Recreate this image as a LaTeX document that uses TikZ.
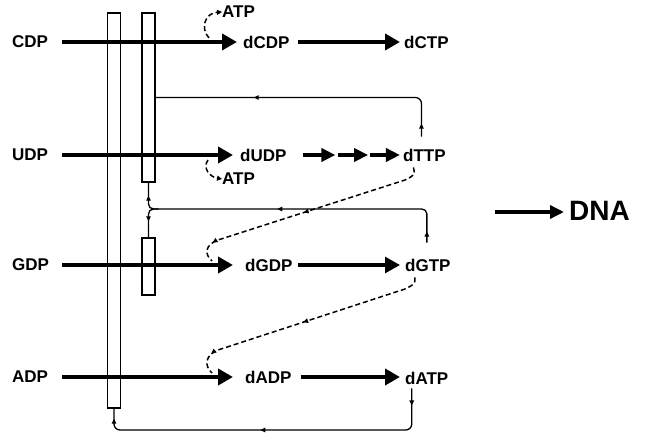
\documentclass[tikz,border=0pt]{standalone}
\usepackage{fontspec}
\setmainfont{Liberation Sans}
\usetikzlibrary{arrows.meta,calc,decorations.markings}
\begin{document}
\begin{tikzpicture}[x=1pt,y=-1pt,
  lbl/.style={font=\bfseries\fontsize{17}{19}\selectfont, inner sep=0pt, anchor=west},
  bigarrow/.style={line width=4.2pt, -{Triangle[length=15pt,width=16pt]}},
  smallarrow/.style={line width=3.6pt, -{Triangle[length=14pt,width=13pt]}},
  bar/.style={draw, line width=1.4pt, inner sep=0pt, minimum width=13pt},
  fb/.style={line width=1.3pt, rounded corners=6pt},
  dsh/.style={line width=1.5pt, dash pattern=on 5pt off 3pt},
  tip/.style={-{Triangle[length=5pt,width=5pt]}},
  mk/.style={postaction={decorate, decoration={markings, mark=at position #1 with {\arrow{Triangle[length=5pt,width=4.5pt]}}}}}
]
\useasboundingbox (0,0) rectangle (646,433);

% regulatory bars
\node[bar, minimum height=395pt] (LB) at (114,210.5) {};
\node[bar, minimum height=169pt] (UB) at (148.5,97.5) {};
\node[bar, minimum height=57pt] (GB) at (148.5,266.5) {};

% labels
\node[lbl] (CDP) at (12,42) {CDP};
\node[lbl] (UDP) at (12,155) {UDP};
\node[lbl] (GDP) at (12,265) {GDP};
\node[lbl] (ADP) at (12,377) {ADP};
\node[lbl] (dCDP) at (243,42) {dCDP};
\node[lbl] (dUDP) at (240,155) {dUDP};
\node[lbl] (dGDP) at (245,265) {dGDP};
\node[lbl] (dADP) at (245,377) {dADP};
\node[lbl] (dCTP) at (404,42) {dCTP};
\node[lbl] (dTTP) at (403,155) {dTTP};
\node[lbl] (dGTP) at (405,265) {dGTP};
\node[lbl] (dATP) at (405,378) {dATP};
\node[lbl] (ATPa) at (222,12) {ATP};
\node[lbl] (ATPb) at (222,179) {ATP};
\node[lbl, font=\bfseries\fontsize{28}{30}\selectfont] (DNA) at (569,211) {DNA};

% main reactions
\draw[bigarrow, shorten <=14pt, shorten >=6pt] (CDP.east) -- (CDP.east -| dCDP.west);
\draw[bigarrow, shorten <=8pt, shorten >=4pt] (dCDP.east) -- (dCDP.east -| dCTP.west);
\draw[bigarrow, shorten <=14pt, shorten >=7pt] (UDP.east) -- (UDP.east -| dUDP.west);
\coordinate (ua) at (dUDP.east);
\coordinate (ub) at (dUDP.east -| dTTP.west);
\draw[smallarrow] ($(ua)!0.137!(ub)$) -- ($(ua)!0.419!(ub)$);
\draw[smallarrow] ($(ua)!0.444!(ub)$) -- ($(ua)!0.70!(ub)$);
\draw[smallarrow] ($(ua)!0.718!(ub)$) -- ($(ua)!0.974!(ub)$);
\draw[bigarrow, shorten <=13pt, shorten >=12pt] (GDP.east) -- (GDP.east -| dGDP.west);
\draw[bigarrow, line width=3pt, shorten <=5pt, shorten >=5pt] (dGDP.east) -- (dGDP.east -| dGTP.west);
\draw[bigarrow, shorten <=14pt, shorten >=12pt] (ADP.east) -- (ADP.east -| dADP.west);
\draw[bigarrow, shorten <=9pt, shorten >=5pt] (dADP.east) -- (dADP.east -| dATP.west);
\coordinate (dnas) at (495,212);
\draw[smallarrow, line width=3.4pt, shorten >=5pt] (dnas) -- (dnas -| DNA.west);

% ATP side reactions
\coordinate (c1) at (209,38);
\draw[dsh, tip] (c1) .. controls (200,28) and (205,13) .. (ATPa.west);
\coordinate (c2) at (208,160);
\draw[dsh, tip] (c2) .. controls (202,168) and (210,177) .. (ATPb.west);

% feedback lines
\coordinate (s1) at ($(dTTP.north)+(-3,-12)$);
\draw[fb, mk=13pt, mk=-98pt] (s1) |- (UB.east);

\coordinate (j) at (148.5,209);
\coordinate (s2) at ($(dGTP.north)+(-1,-16)$);
\draw[fb, rounded corners=5pt, mk=11pt, mk=181pt, mk=-13pt] (s2) |- (j) -- (UB.south);
\draw[fb, rounded corners=5pt, mk=-16pt] ($(j)+(10,0)$) -- (j) -- (GB.north);

\coordinate (s3) at ($(dATP.south)+(-15,4)$);
\coordinate (bot) at (0,430);
\draw[fb, mk=17pt, mk=-165pt, mk=-10pt] (s3) |- (LB.south |- bot) -- (LB.south);

% dashed activation lines
\coordinate (d1) at ($(dTTP.south)+(-11,6)$);
\coordinate (g1) at (212,261);
\draw[dsh, mk=124pt, mk=-22pt] (d1) .. controls (415,175) .. (405,180) -- (218,240) .. controls (205,245) and (204,254) .. (g1);
\coordinate (d2) at ($(dGTP.south)+(-13,6)$);
\coordinate (a1) at (212,373);
\draw[dsh, mk=124pt, mk=-22pt] (d2) .. controls (415,284) .. (405,289) -- (218,350) .. controls (205,355) and (204,366) .. (a1);
\end{tikzpicture}
\end{document}
